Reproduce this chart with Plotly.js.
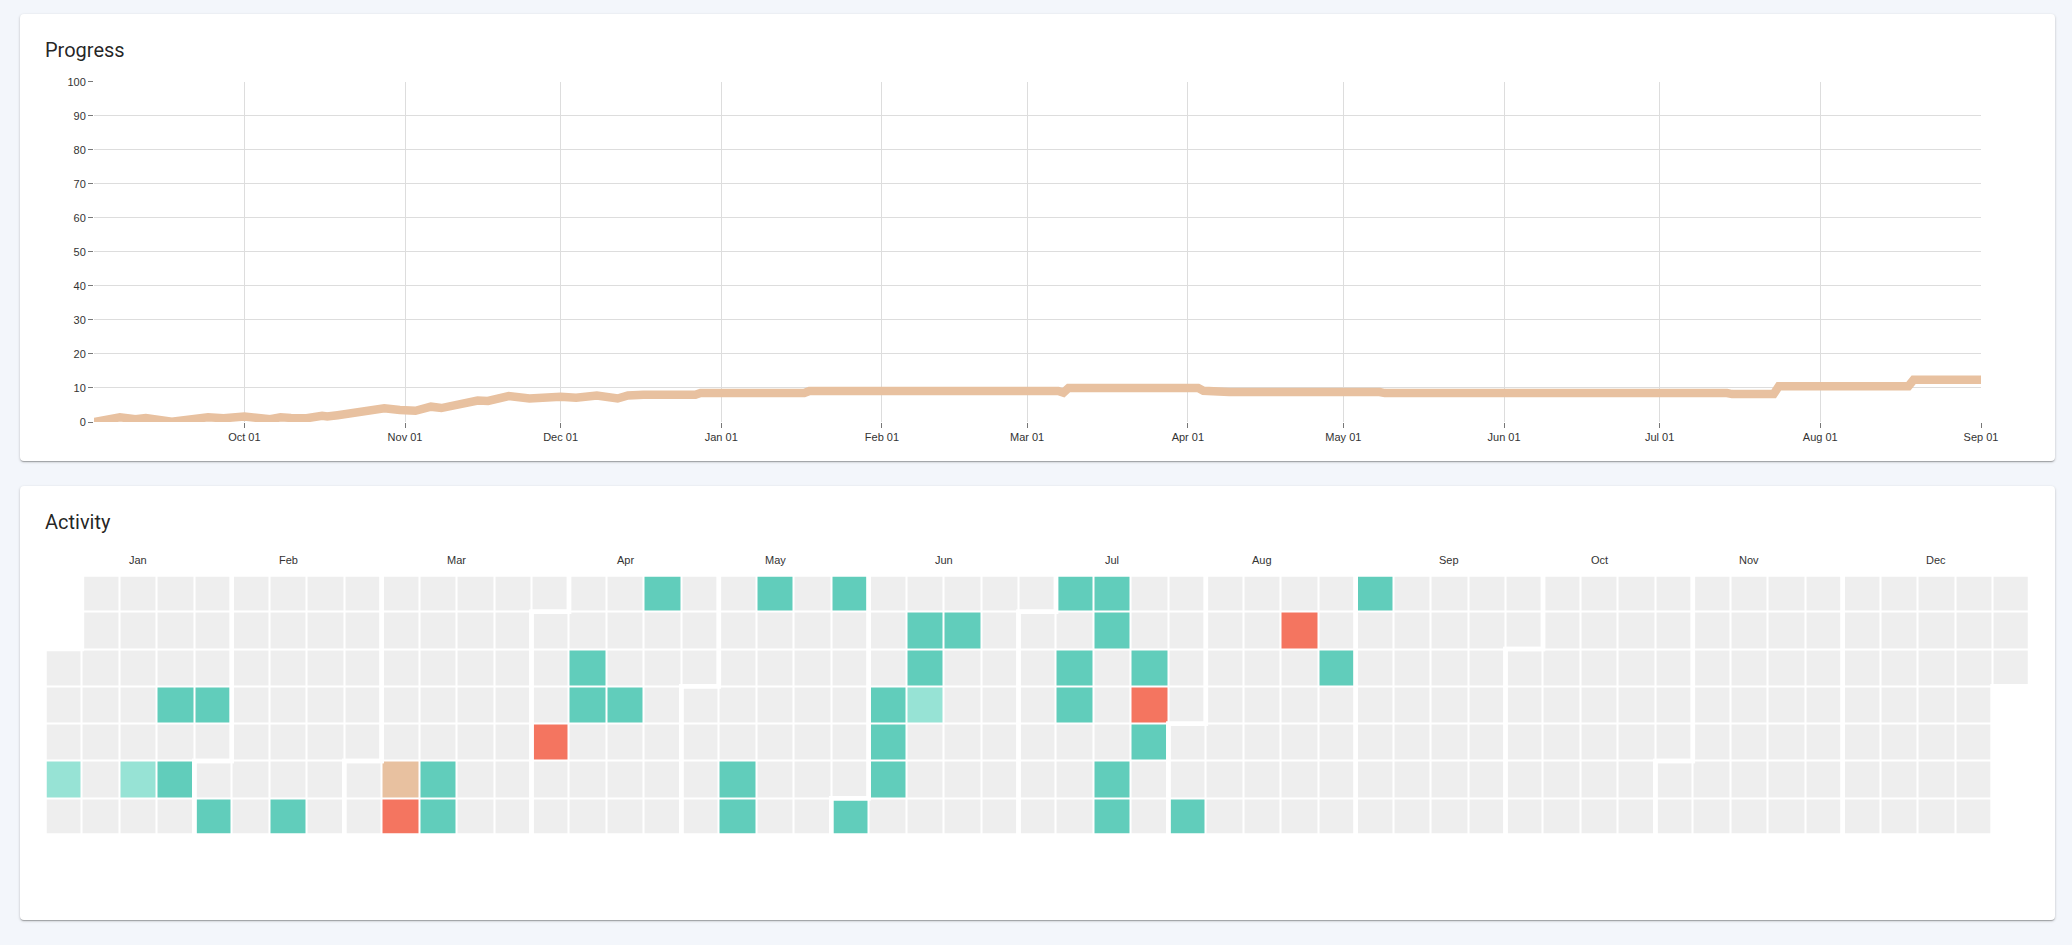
<!DOCTYPE html>
<html>
<head>
<meta charset="utf-8">
<script src="https://cdn.plot.ly/plotly-3.0.1.min.js"></script>
<style>
html,body{margin:0;padding:0;background:#f3f6fb;width:2072px;height:945px;overflow:hidden;}
.card{position:absolute;left:20px;width:2035px;background:#ffffff;border-radius:4px;
box-shadow:0 1px 3px rgba(0,0,0,0.2),0 1px 1px rgba(0,0,0,0.14),0 2px 1px -1px rgba(0,0,0,0.12);}
#chart{position:absolute;left:0;top:0;width:2072px;height:945px;}
</style>
</head>
<body>
<div class="card" style="top:14px;height:447px"></div>
<div class="card" style="top:486px;height:434px"></div>
<div id="chart"></div>
<script>
// ---------------- data ----------------
const progressDates = [
  '2018-09-02','2018-09-07','2018-09-10','2018-09-12','2018-09-17','2018-09-22','2018-09-24','2018-09-27',
  '2018-10-01','2018-10-06','2018-10-08','2018-10-10','2018-10-13','2018-10-16','2018-10-17','2018-10-19',
  '2018-10-28','2018-10-31','2018-11-03','2018-11-06','2018-11-08','2018-11-15','2018-11-17','2018-11-21',
  '2018-11-25','2018-12-01','2018-12-04','2018-12-08','2018-12-10','2018-12-12','2018-12-14','2018-12-17',
  '2018-12-27','2018-12-28','2019-01-17','2019-01-18','2019-03-07','2019-03-08','2019-03-09','2019-04-03',
  '2019-04-04','2019-04-08','2019-04-09','2019-05-08','2019-05-09','2019-07-14','2019-07-15','2019-07-23',
  '2019-07-24','2019-08-18','2019-08-19','2019-09-01'
];
const progressValues = [
  0, 1.4, 0.8, 1.2, 0.1, 0.9, 1.4, 1.1,
  1.6, 0.8, 1.4, 1.2, 1.1, 1.8, 1.6, 2.0,
  4.0, 3.5, 3.3, 4.5, 4.1, 6.3, 6.2, 7.6,
  6.9, 7.4, 7.1, 7.8, 7.6, 6.9, 7.8, 8.0,
  8.0, 8.5, 8.5, 9.1, 9.1, 8.6, 10.0, 10.0,
  9.2, 9.1, 8.8, 8.8, 8.5, 8.5, 8.2, 8.2,
  10.5, 10.5, 12.4, 12.4
];

const calendarYear = 2019;
const activityDates = [
  '2019-01-04','2019-01-18','2019-01-23','2019-01-25','2019-01-30','2019-02-02','2019-02-16',
  '2019-03-08','2019-03-09','2019-03-15','2019-03-16','2019-04-04','2019-04-09','2019-04-10',
  '2019-04-17','2019-04-21','2019-05-10','2019-05-11','2019-05-12','2019-05-26','2019-06-01',
  '2019-06-05','2019-06-06','2019-06-07','2019-06-10','2019-06-11','2019-06-12','2019-06-17',
  '2019-07-07','2019-07-09','2019-07-10','2019-07-14','2019-07-15','2019-07-19','2019-07-20',
  '2019-07-23','2019-07-24','2019-07-25','2019-08-03','2019-08-19','2019-08-27','2019-09-01'
];
const activityValues = [
  2, 2, 1, 1, 1, 1, 1,
  3, 4, 1, 1, 4, 1, 1,
  1, 1, 1, 1, 1, 1, 1,
  1, 1, 1, 1, 1, 2, 1,
  1, 1, 1, 1, 1, 1, 1,
  1, 4, 1, 1, 4, 1, 1
];
const monthLabels = ['Jan','Feb','Mar','Apr','May','Jun','Jul','Aug','Sep','Oct','Nov','Dec'];
const activityColors = ['#eeeeee','#61cdbb','#97e3d5','#e8c1a0','#f47560'];

// ---------------- layout helpers ----------------
const W = 2072, H = 945;
const fx = v => v / W;
const fy = v => 1 - v / H;
const tickFont = {family: 'Liberation Sans, Arial, sans-serif', size: 11, color: '#333333'};

// ---------------- calendar grid ----------------
const DAY = 86400000;
const jan1 = Date.UTC(calendarYear, 0, 1);
const startDow = new Date(jan1).getUTCDay();
const nDays = Math.round((Date.UTC(calendarYear + 1, 0, 1) - jan1) / DAY);
const nCols = Math.floor((nDays - 1 + startDow) / 7) + 1;
const cell = d => ({c: Math.floor((d + startDow) / 7), r: (d + startDow) % 7});
const dayIndex = s => Math.round((Date.UTC(+s.slice(0,4), +s.slice(5,7) - 1, +s.slice(8,10)) - jan1) / DAY);

const z = [];
for (let r = 0; r < 7; r++) z.push(new Array(nCols).fill(null));
for (let d = 0; d < nDays; d++) { const p = cell(d); z[p.r][p.c] = 0; }
activityDates.forEach((s, i) => { const p = cell(dayIndex(s)); z[p.r][p.c] = activityValues[i]; });

const nC = activityColors.length;
const colorscale = [];
activityColors.forEach((c, i) => { colorscale.push([i / nC, c]); colorscale.push([(i + 1) / nC, c]); });

const shapes = [];
const annotations = [];
for (let m = 0; m < 12; m++) {
  const d0 = Math.round((Date.UTC(calendarYear, m, 1) - jan1) / DAY);
  const d1 = Math.round((Date.UTC(calendarYear, m + 1, 1) - jan1) / DAY) - 1;
  const a = cell(d0), b = cell(d1);
  const path = `M${a.c-0.5},${a.r-0.5} L${a.c+0.5},${a.r-0.5} L${a.c+0.5},-0.5 L${b.c+0.5},-0.5 ` +
               `L${b.c+0.5},${b.r+0.5} L${b.c-0.5},${b.r+0.5} L${b.c-0.5},6.5 L${a.c-0.5},6.5 Z`;
  shapes.push({type: 'path', xref: 'x2', yref: 'y2', path: path, line: {color: '#ffffff', width: 4.5}, layer: 'above'});
  annotations.push({xref: 'x2', yref: 'y2', x: (a.c + b.c) / 2, y: -0.5, yshift: 15,
    text: monthLabels[m], showarrow: false, xanchor: 'center', yanchor: 'middle', font: tickFont});
}

annotations.push({xref: 'paper', yref: 'paper', x: fx(43), y: fy(50.5), xanchor: 'left', yanchor: 'middle',
  text: 'Progress', showarrow: false, font: {family: 'Roboto, sans-serif', size: 20, color: 'rgba(0,0,0,0.87)'}});
annotations.push({xref: 'paper', yref: 'paper', x: fx(43), y: fy(522), xanchor: 'left', yanchor: 'middle',
  text: 'Activity', showarrow: false, font: {family: 'Roboto, sans-serif', size: 20, color: 'rgba(0,0,0,0.87)'}});

const traces = [
  {type: 'scatter', mode: 'lines', x: progressDates, y: progressValues, xaxis: 'x', yaxis: 'y',
   line: {color: '#e8c1a0', width: 8.5}, hoverinfo: 'skip'},
  {type: 'heatmap', z: z, x: [...Array(nCols).keys()], y: [0,1,2,3,4,5,6], xaxis: 'x2', yaxis: 'y2',
   zmin: -0.5, zmax: nC - 0.5, colorscale: colorscale, showscale: false, xgap: 2, ygap: 2, hoverinfo: 'skip'}
];

const layout = {
  width: W, height: H, margin: {l: 0, r: 0, t: 0, b: 0, pad: 0},
  paper_bgcolor: 'rgba(0,0,0,0)', plot_bgcolor: 'rgba(0,0,0,0)', showlegend: false,
  xaxis: {type: 'date', domain: [fx(94), fx(1981)], anchor: 'y', range: ['2018-09-02', '2019-09-01'],
    tick0: '2018-10-01', dtick: 'M1', tickformat: '%b %d', ticks: 'outside', ticklen: 5, tickwidth: 1,
    tickcolor: '#777777', showgrid: true, gridcolor: '#dddddd', gridwidth: 1, zeroline: false, showline: false,
    tickfont: tickFont, fixedrange: true},
  yaxis: {domain: [fy(422), fy(81.7)], anchor: 'x', range: [0, 100], tick0: 0, dtick: 10, ticks: 'outside',
    ticklen: 5, tickwidth: 1, tickcolor: '#777777', showgrid: true, gridcolor: '#dddddd', gridwidth: 1,
    zeroline: false, showline: false, tickfont: tickFont, fixedrange: true},
  xaxis2: {domain: [fx(44.5), fx(2030)], anchor: 'y2', range: [-0.5, nCols - 0.5], visible: false, fixedrange: true},
  yaxis2: {domain: [fy(835.5), fy(574.5)], anchor: 'x2', range: [6.5, -0.5], visible: false, fixedrange: true},
  shapes: shapes,
  annotations: annotations
};

Plotly.newPlot('chart', traces, layout, {staticPlot: true, displayModeBar: false});
</script>
</body>
</html>
